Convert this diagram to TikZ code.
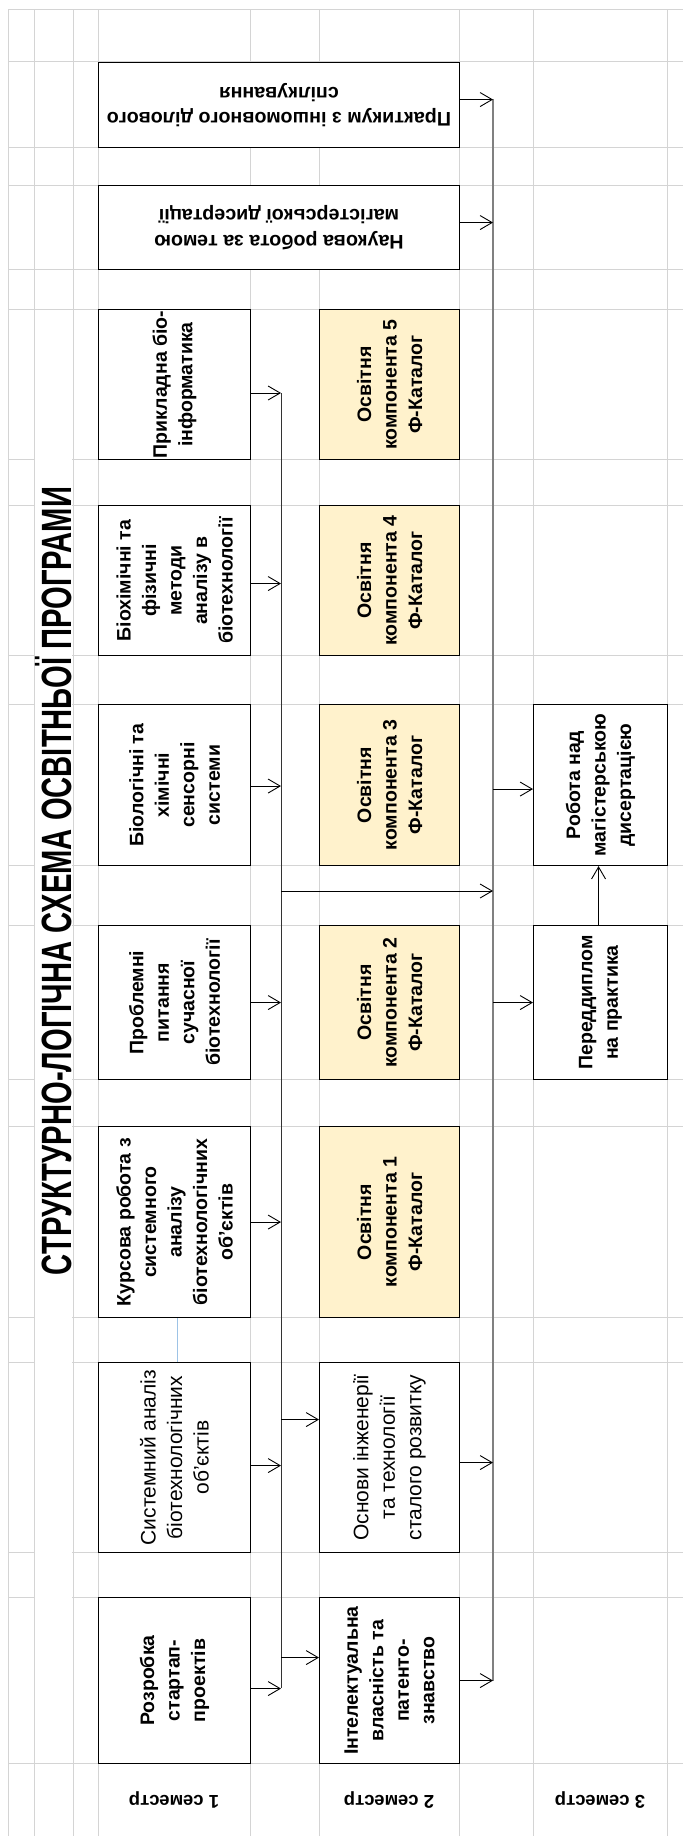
\documentclass[tikz,border=0pt]{standalone}
\usepackage{fontspec}
\setmainfont{Liberation Sans}
\usetikzlibrary{arrows.meta,calc}
\definecolor{gridc}{HTML}{D4D4D4}
\definecolor{compfill}{HTML}{FFF2CC}
\definecolor{linkblue}{HTML}{9DC3E6}
\begin{document}
\begin{tikzpicture}[x=1pt,y=-1pt,
  gridline/.style={draw=gridc,line width=1pt},
  box/.style={draw=black,line width=1.1pt,fill=white,anchor=north west,inner sep=0pt},
  comp/.style={box,fill=compfill},
  vtxt/.style={rotate=90,align=center,inner sep=0pt,font=\bfseries\fontsize{19.5}{25.5}\selectfont},
  vtxtr/.style={rotate=90,align=center,inner sep=0pt,font=\fontsize{21}{26.5}\selectfont},
  utxt/.style={rotate=180,align=center,inner sep=0pt,font=\bfseries\fontsize{19.7}{25.5}\selectfont},
  semtxt/.style={rotate=180,inner sep=0pt,font=\bfseries\fontsize{18.5}{22}\selectfont},
  arr/.style={draw=black,line width=0.9pt,-{Straight Barb[length=12pt,width=14pt]}},
]
\useasboundingbox (0,0) rectangle (683,1836);
\fill[white] (0,0) rectangle (683,1836);

% spreadsheet grid
\foreach \x in {8,34,73,98,250,319,459,533,667}
  \draw[gridline] (\x,10) -- (\x,1836);
\foreach \y in {10,62,147,185,269,309,459,505,655,704,865,925,1079,1126,1317,1362,1552,1597,1763}
  \draw[gridline] (8,\y) -- (683,\y);
\fill[white] (34.6,309.6) rectangle (72.4,1762.4);

% title
\node[rotate=90,inner sep=0pt,font=\bfseries\fontsize{29.2}{30}\selectfont] (title) at (54,881)
  {\scalebox{1}[1.45]{СТРУКТУРНО-ЛОГІЧНА СХЕМА ОСВІТНЬОЇ ПРОГРАМИ}};

% top wide boxes
\node[box,minimum width=361pt,minimum height=85pt] (prak) at (98,62) {};
\node[utxt] at (prak.center) {Практикум з іншомовного ділового\\спілкування};
\node[box,minimum width=361pt,minimum height=84pt] (nauk) at (98,185) {};
\node[utxt] at (nauk.center) {Наукова робота за темою\\магістерської дисертації};

% column 1
\node[box,minimum width=152pt,minimum height=150pt] (prikl) at (98,309) {};
\node[vtxt] at (prikl.center) {Прикладна біо-\\інформатика};
\node[box,minimum width=152pt,minimum height=150pt] (bioh) at (98,505) {};
\node[vtxt] at (bioh.center) {Біохімічні та\\фізичні\\методи\\аналізу в\\біотехнології};
\node[box,minimum width=152pt,minimum height=161pt] (biol) at (98,704) {};
\node[vtxt] at (biol.center) {Біологічні та\\хімічні\\сенсорні\\системи};
\node[box,minimum width=152pt,minimum height=154pt] (probl) at (98,925) {};
\node[vtxt] at (probl.center) {Проблемні\\питання\\сучасної\\біотехнології};
\node[box,minimum width=152pt,minimum height=191pt] (kurs) at (98,1126) {};
\node[vtxt] at (kurs.center) {Курсова робота з\\системного\\аналізу\\біотехнологічних\\об'єктів};
\node[box,minimum width=152pt,minimum height=190pt] (sys) at (98,1362) {};
\node[vtxtr] at (sys.center) {Системний аналіз\\біотехнологічних\\об'єктів};
\node[box,minimum width=152pt,minimum height=166pt] (rozr) at (98,1597) {};
\node[vtxt] at (rozr.center) {Розробка\\стартап-\\проектів};

% column 2
\node[comp,minimum width=140pt,minimum height=150pt] (c5) at (319,309) {};
\node[vtxt] at (c5.center) {Освітня\\компонента 5\\Ф-Каталог};
\node[comp,minimum width=140pt,minimum height=150pt] (c4) at (319,505) {};
\node[vtxt] at (c4.center) {Освітня\\компонента 4\\Ф-Каталог};
\node[comp,minimum width=140pt,minimum height=161pt] (c3) at (319,704) {};
\node[vtxt] at (c3.center) {Освітня\\компонента 3\\Ф-Каталог};
\node[comp,minimum width=140pt,minimum height=154pt] (c2) at (319,925) {};
\node[vtxt] at (c2.center) {Освітня\\компонента 2\\Ф-Каталог};
\node[comp,minimum width=140pt,minimum height=191pt] (c1) at (319,1126) {};
\node[vtxt] at (c1.center) {Освітня\\компонента 1\\Ф-Каталог};
\node[box,minimum width=140pt,minimum height=190pt] (osn) at (319,1362) {};
\node[vtxtr] at (osn.center) {Основи інженерії\\та технології\\сталого розвитку};
\node[box,minimum width=140pt,minimum height=166pt] (intel) at (319,1597) {};
\node[vtxt] at (intel.center) {Інтелектуальна\\власність та\\патенто-\\знавство};

% column 3
\node[box,minimum width=134pt,minimum height=161pt] (rob) at (533,704) {};
\node[vtxt] at (rob.center) {Робота над\\магістерською\\дисертацією};
\node[box,minimum width=134pt,minimum height=154pt] (pd) at (533,925) {};
\node[vtxt] at (pd.center) {Переддиплом\\на практика};

% semester labels
\node[semtxt] (s1) at (174,1800) {1 семестр};
\node[semtxt] (s2) at (389,1800) {2 семестр};
\node[semtxt] (s3) at (600,1800) {3 семестр};

% bus lines
\coordinate (l1t) at (281,393);
\coordinate (l1b) at (281,1688);
\coordinate (l1m) at (281,891);
\coordinate (l2t) at (493,99);
\coordinate (l2b) at (493,1681);
\draw[black!80,line width=1pt] (l1t) -- (l1b);
\draw[black!50,line width=1.3pt] (l2t) -- (l2b);

% column 1 -> bus 1
\draw[arr] (prikl.east |- l1t) -- (l1t);
\draw[arr] ($(bioh.east)+(0,3)$) -- ($(bioh.east -| l1t)+(0,3)$);
\draw[arr] ($(biol.east)+(0,1)$) -- ($(biol.east -| l1t)+(0,1)$);
\draw[arr] (probl.east) -- (probl.east -| l1t);
\draw[arr] (kurs.east) -- (kurs.east -| l1t);
\draw[arr] ($(sys.east)+(0,8)$) -- ($(sys.east -| l1t)+(0,8)$);
\draw[arr] ($(rozr.east)+(0,8)$) -- ($(rozr.east -| l1t)+(0,8)$);

% bus 1 -> column 2
\draw[arr] ($(osn.west -| l1t)+(0,-38)$) -- ($(osn.west)+(0,-38)$);
\draw[arr] ($(intel.west -| l1t)+(0,-23)$) -- ($(intel.west)+(0,-23)$);

% bus 1 -> bus 2
\draw[arr] (l1m) -- (l1m -| l2t);

% column 2 -> bus 2
\draw[arr] ($(prak.east)+(0,-5.5)$) -- ($(prak.east -| l2t)+(0,-5.5)$);
\draw[arr] ($(nauk.east)+(0,-5)$) -- ($(nauk.east -| l2t)+(0,-5)$);
\draw[arr] ($(osn.east)+(0,5)$) -- ($(osn.east -| l2t)+(0,5)$);
\draw[arr] (intel.east) -- (intel.east -| l2t);

% bus 2 -> column 3
\draw[arr] ($(rob.west -| l2t)+(0,4)$) -- ($(rob.west)+(0,4)$);
\draw[arr] (pd.west -| l2t) -- (pd.west);
\draw[arr] ($(pd.north)+(-2,0)$) -- ($(rob.south)+(-2,0)$);

% light blue link
\draw[linkblue,line width=1pt] ($(sys.north)+(3,0)$) -- ($(kurs.south)+(3,0)$);
\end{tikzpicture}
\end{document}
